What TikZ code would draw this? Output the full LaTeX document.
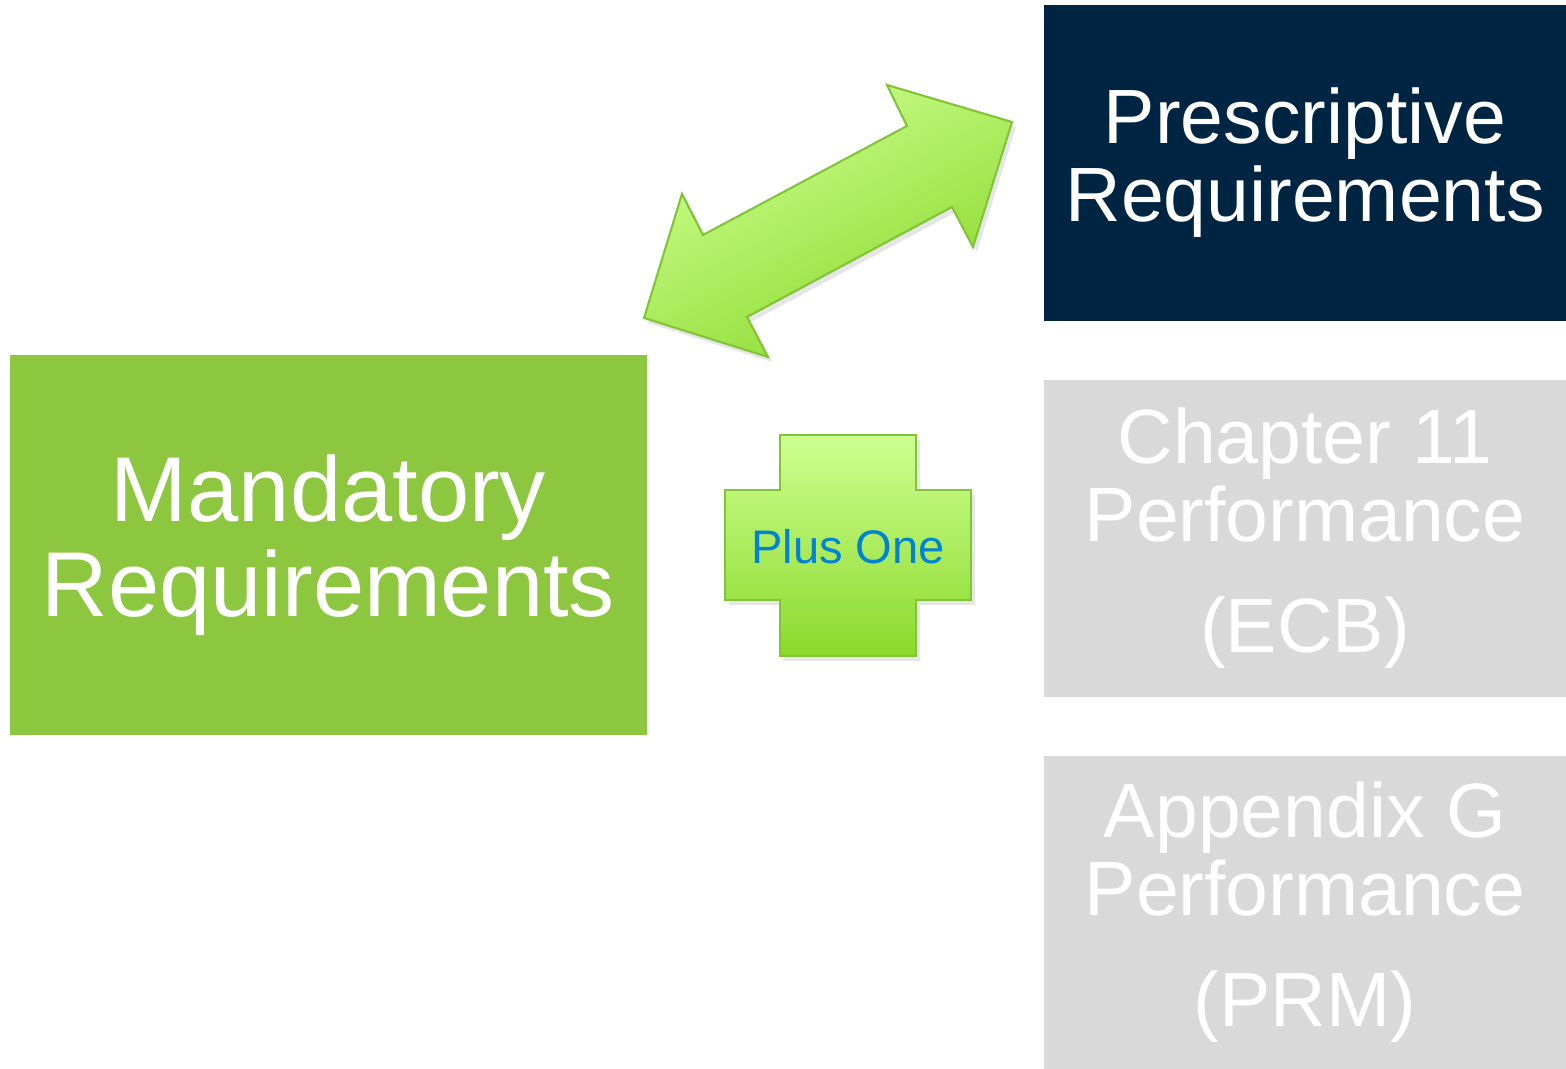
\documentclass[tikz,border=0pt]{standalone}
\usepackage{fontspec}
\setmainfont{Liberation Sans}
\usetikzlibrary{shadows}
\definecolor{navy}{RGB}{0,37,66}
\definecolor{grassgreen}{RGB}{141,198,63}
\definecolor{boxgray}{RGB}{217,217,217}
\definecolor{limelight}{RGB}{206,255,145}
\definecolor{limedark}{RGB}{139,217,44}
\definecolor{limeedge}{RGB}{130,196,55}
\definecolor{plusblue}{RGB}{0,132,209}

\begin{document}
\begin{tikzpicture}[
    box/.style={rectangle, inner sep=0pt, minimum width=5.22cm, align=center, text=white},
    bigtext/.style={font=\fontsize{21.9}{22.2}\selectfont},
    lime/.style={draw=limeedge, line width=0.6pt, top color=limelight, bottom color=limedark,
      drop shadow={opacity=0.2, shadow xshift=0.04cm, shadow yshift=-0.05cm}}]
    \useasboundingbox (0,0) rectangle (15.66,10.69);
    % boxes
    \node[box, bigtext, fill=navy, minimum height=3.16cm] (prescriptive) at (13.05,9.06) {Prescriptive\\Requirements};
    \node[box, bigtext, fill=boxgray, minimum height=3.17cm] (chapter) at (13.05,5.305) {Chapter 11\\Performance\\[0.33cm](ECB)};
    \node[box, bigtext, fill=boxgray, minimum height=3.13cm] (appendix) at (13.05,1.565) {Appendix G\\Performance\\[0.33cm](PRM)};
    \node[box, fill=grassgreen, minimum width=6.37cm, minimum height=3.8cm,
      font=\fontsize{26.2}{27}\selectfont] (mandatory) at (3.285,5.24) {Mandatory\\Requirements};
    % double arrow
    \path[lime, shading angle=28] (6.44,7.51) coordinate (tipSW) -- (6.82,8.75) -- (7.03,8.34)
      -- (9.07,9.43) -- (8.87,9.84) -- (10.12,9.47) coordinate (tipNE) -- (9.73,8.22)
      -- (9.52,8.62) -- (7.47,7.52) -- (7.68,7.12) -- cycle;
    % plus sign
    \path[lime] (7.80,6.34) -- (9.16,6.34) -- (9.16,5.79) -- (9.71,5.79) -- (9.71,4.69)
      -- (9.16,4.69) -- (9.16,4.13) -- (7.80,4.13) -- (7.80,4.69) -- (7.25,4.69)
      -- (7.25,5.79) -- (7.80,5.79) -- cycle;
    \node[text=plusblue, font=\fontsize{13.4}{15}\selectfont] (plusone) at (8.48,5.22) {Plus One};
\end{tikzpicture}
\end{document}
